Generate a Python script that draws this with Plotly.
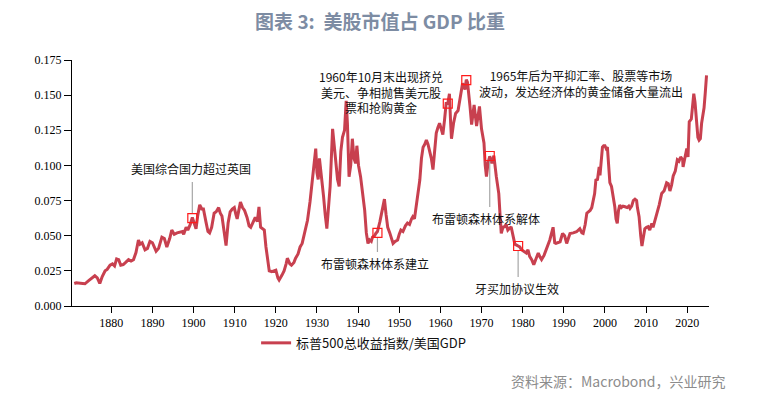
import plotly.graph_objects as go

# ---------------- data ----------------
years = [
    1871.0, 1871.5, 1872.5, 1873.6, 1874.5, 1875.3, 1876.0, 1876.6, 1877.2, 1877.8,
    1878.5, 1879.0, 1879.7, 1880.3, 1880.8, 1881.3, 1881.8, 1882.3, 1882.9, 1883.5,
    1884.2, 1884.8, 1885.4, 1886.0, 1886.6, 1887.0, 1887.5, 1888.2, 1888.8, 1889.4,
    1890.0, 1890.9, 1891.5, 1892.3, 1892.9, 1893.5, 1894.2, 1894.7, 1895.3, 1896.0,
    1896.7, 1897.3, 1897.6, 1898.2, 1898.6, 1899.2, 1899.7, 1900.2, 1900.6, 1901.0,
    1901.5, 1902.0, 1902.4, 1903.0, 1903.5, 1903.9, 1904.4, 1905.0, 1905.5, 1906.1,
    1906.5, 1906.9, 1907.4, 1907.9, 1908.4, 1908.9, 1909.4, 1909.9, 1910.3, 1910.6,
    1911.0, 1911.4, 1911.9, 1912.4, 1913.0, 1913.5, 1913.9, 1914.5, 1915.0, 1915.5,
    1915.9, 1916.3, 1916.8, 1917.2, 1917.6, 1918.0, 1918.4, 1919.0, 1919.5, 1920.0,
    1920.5, 1920.8, 1921.5, 1922.0, 1922.5, 1922.8, 1923.4, 1923.8, 1924.4, 1924.8,
    1925.4, 1925.9, 1926.4, 1927.0, 1927.7, 1928.3, 1928.9, 1929.3, 1929.7, 1930.0,
    1930.3, 1930.6, 1931.0, 1931.6, 1932.0, 1932.4, 1932.8, 1933.2, 1933.8, 1934.2,
    1934.6, 1935.0, 1935.4, 1935.8, 1936.2, 1936.7, 1937.1, 1937.4, 1937.8, 1938.2,
    1938.6, 1939.0, 1939.4, 1939.7, 1940.1, 1940.6, 1941.1, 1941.6, 1942.0, 1942.4,
    1942.8, 1943.2, 1943.5, 1944.0, 1944.3, 1944.7, 1945.3, 1945.9, 1946.4, 1946.8,
    1947.2, 1947.7, 1948.2, 1948.5, 1949.0, 1949.6, 1950.0, 1950.4, 1950.9, 1951.5,
    1952.0, 1952.5, 1953.0, 1953.3, 1953.7, 1954.3, 1954.7, 1955.0, 1955.4, 1955.8,
    1956.2, 1956.6, 1957.0, 1957.4, 1957.8, 1958.2, 1958.6, 1959.0, 1959.4, 1959.8,
    1960.2, 1960.6, 1961.0, 1961.4, 1961.8, 1962.2, 1962.5, 1962.7, 1963.2, 1963.7,
    1964.3, 1964.8, 1965.4, 1966.0, 1966.3, 1966.6, 1967.0, 1967.2, 1967.6, 1968.2,
    1968.8, 1969.2, 1969.5, 1970.0, 1970.6, 1970.9, 1971.2, 1971.6, 1972.0, 1972.5,
    1973.0, 1973.6, 1974.2, 1974.5, 1974.8, 1975.2, 1975.6, 1976.0, 1976.4, 1977.2,
    1977.7, 1978.1, 1978.9, 1979.3, 1979.7, 1980.3, 1980.9, 1981.3, 1981.7, 1982.2,
    1982.7, 1983.3, 1983.8, 1984.2, 1984.6, 1985.2, 1985.7, 1986.2, 1986.6, 1987.4,
    1987.8, 1988.1, 1989.1, 1989.7, 1990.2, 1990.7, 1991.5, 1992.3, 1993.1, 1993.9,
    1994.4, 1994.7, 1995.2, 1995.6, 1996.4, 1996.8, 1997.2, 1997.5, 1997.8, 1998.2,
    1998.6, 1998.8, 1999.4, 1999.7, 2000.0, 2000.3, 2000.6, 2001.0, 2001.2, 2001.6,
    2001.9, 2002.4, 2002.7, 2003.0, 2003.3, 2003.6, 2004.0, 2004.4, 2004.9, 2005.4,
    2005.8, 2006.1, 2006.5, 2006.9, 2007.3, 2007.7, 2007.9, 2008.3, 2008.7, 2009.0,
    2009.3, 2009.7, 2010.1, 2010.5, 2010.9, 2011.4, 2011.7, 2012.1, 2012.6, 2013.2,
    2013.8, 2014.4, 2015.0, 2015.4, 2015.8, 2016.2, 2016.6, 2017.1, 2017.6, 2018.0,
    2018.4, 2018.9, 2019.0, 2019.5, 2019.9, 2020.2, 2020.5, 2021.0, 2021.6, 2021.9,
    2022.3, 2022.6, 2022.9, 2023.2, 2023.5, 2024.1, 2024.4, 2024.7,
]
ratio = [
    0.0160, 0.0165, 0.0162, 0.0158, 0.0180, 0.0200, 0.0215, 0.0200, 0.0160, 0.0210,
    0.0250, 0.0260, 0.0290, 0.0300, 0.0285, 0.0335, 0.0330, 0.0290, 0.0295, 0.0310,
    0.0330, 0.0320, 0.0330, 0.0380, 0.0470, 0.0440, 0.0450, 0.0400, 0.0410, 0.0460,
    0.0450, 0.0390, 0.0410, 0.0490, 0.0480, 0.0420, 0.0480, 0.0540, 0.0510, 0.0520,
    0.0525, 0.0530, 0.0510, 0.0560, 0.0540, 0.0580, 0.0630, 0.0580, 0.0550, 0.0640,
    0.0720, 0.0690, 0.0690, 0.0600, 0.0530, 0.0520, 0.0560, 0.0660, 0.0670, 0.0700,
    0.0660, 0.0640, 0.0550, 0.0430, 0.0590, 0.0670, 0.0690, 0.0700, 0.0650, 0.0620,
    0.0680, 0.0740, 0.0700, 0.0680, 0.0630, 0.0570, 0.0560, 0.0600, 0.0630, 0.0600,
    0.0705, 0.0560, 0.0550, 0.0540, 0.0420, 0.0350, 0.0250, 0.0245, 0.0250, 0.0255,
    0.0200, 0.0185, 0.0220, 0.0250, 0.0300, 0.0340, 0.0300, 0.0290, 0.0310, 0.0340,
    0.0370, 0.0420, 0.0445, 0.0520, 0.0610, 0.0740, 0.0900, 0.1000, 0.1120, 0.0950,
    0.0900, 0.1050, 0.0950, 0.0780, 0.0650, 0.0550, 0.0700, 0.0850, 0.1260, 0.1150,
    0.1060, 0.0900, 0.0850, 0.1100, 0.1200, 0.1250, 0.1460, 0.1300, 0.0920, 0.1000,
    0.1190, 0.1050, 0.1015, 0.1140, 0.1000, 0.0920, 0.0800, 0.0680, 0.0520, 0.0445,
    0.0470, 0.0460, 0.0490, 0.0500, 0.0516, 0.0530, 0.0600, 0.0680, 0.0760, 0.0650,
    0.0560, 0.0520, 0.0480, 0.0445, 0.0460, 0.0470, 0.0510, 0.0540, 0.0530, 0.0570,
    0.0590, 0.0580, 0.0620, 0.0635, 0.0620, 0.0750, 0.0870, 0.0896, 0.1050, 0.1130,
    0.1150, 0.1180, 0.1150, 0.1100, 0.1050, 0.0970, 0.1100, 0.1230, 0.1270, 0.1300,
    0.1260, 0.1220, 0.1320, 0.1440, 0.1440, 0.1510, 0.1300, 0.1190, 0.1300, 0.1370,
    0.1390, 0.1480, 0.1585, 0.1540, 0.1610, 0.1590, 0.1500, 0.1420, 0.1290, 0.1430,
    0.1280, 0.1350, 0.1420, 0.1260, 0.1160, 0.1000, 0.0920, 0.1020, 0.1065, 0.1015,
    0.1070, 0.0920, 0.0800, 0.0650, 0.0516, 0.0560, 0.0564, 0.0580, 0.0540, 0.0564,
    0.0500, 0.0440, 0.0427, 0.0420, 0.0400, 0.0390, 0.0377, 0.0400, 0.0353, 0.0330,
    0.0294, 0.0340, 0.0377, 0.0350, 0.0330, 0.0360, 0.0400, 0.0448, 0.0470, 0.0560,
    0.0450, 0.0445, 0.0457, 0.0516, 0.0500, 0.0445, 0.0516, 0.0520, 0.0528, 0.0550,
    0.0520, 0.0516, 0.0580, 0.0660, 0.0680, 0.0700, 0.0750, 0.0800, 0.0896, 0.0900,
    0.0990, 0.0930, 0.1130, 0.1140, 0.1140, 0.1120, 0.1130, 0.1000, 0.0877, 0.0850,
    0.0800, 0.0706, 0.0620, 0.0588, 0.0680, 0.0718, 0.0700, 0.0710, 0.0706, 0.0700,
    0.0710, 0.0694, 0.0710, 0.0750, 0.0760, 0.0750, 0.0700, 0.0635, 0.0500, 0.0427,
    0.0480, 0.0550, 0.0560, 0.0564, 0.0540, 0.0588, 0.0560, 0.0600, 0.0660, 0.0720,
    0.0800, 0.0820, 0.0877, 0.0870, 0.0818, 0.0860, 0.0925, 0.0960, 0.1040, 0.1030,
    0.1060, 0.1040, 0.0990, 0.1080, 0.1120, 0.1060, 0.1310, 0.1330, 0.1510, 0.1450,
    0.1330, 0.1200, 0.1180, 0.1190, 0.1300, 0.1410, 0.1520, 0.1640,
]

x_ticks = [1880, 1890, 1900, 1910, 1920, 1930, 1940, 1950, 1960, 1970, 1980, 1990, 2000, 2010, 2020]
y_ticks = [0.0, 0.025, 0.05, 0.075, 0.1, 0.125, 0.15, 0.175]

series_name = "标普500总收益指数/美国GDP"
title_text = "图表 3:  美股市值占 GDP 比重"
source_text = "资料来源：Macrobond，兴业研究"

# highlighted event points (year, value)
box_years = [1899.7, 1944.7, 1961.8, 1966.3, 1972.0, 1978.9]
box_values = [0.0625, 0.0520, 0.1440, 0.1607, 0.1067, 0.0427]

# leader lines: year, from value, to value
lead_years = [1899.7, 1944.7, 1972.0, 1978.9]
lead_from = [0.0660, 0.0485, 0.1030, 0.0393]
lead_to = [0.0882, 0.0384, 0.0704, 0.0206]

# event labels: text, year, value
label_texts = [
    "美国综合国力超过英国",
    "布雷顿森林体系建立",
    "1960年10月末出现挤兑<br>美元、争相抛售美元股<br>票和抢购黄金",
    "1965年后为平抑汇率、股票等市场<br>波动，发达经济体的黄金储备大量流出",
    "布雷顿森林体系解体",
    "牙买加协议生效",
]
label_years = [1899.4, 1944.2, 1945.5, 1994.2, 1971.1, 1978.6]
label_values = [0.0981, 0.0299, 0.1522, 0.1580, 0.0626, 0.0121]

# ---------------- figure ----------------
LINE_COLOR = "#c8404f"
CJK = "Noto Sans CJK SC"
SERIF = "Liberation Serif"

fig = go.Figure()
fig.add_trace(go.Scatter(
    x=years, y=ratio, mode="lines", name=series_name,
    line=dict(color=LINE_COLOR, width=3),
))

shapes = []
for yr, v0, v1 in zip(lead_years, lead_from, lead_to):
    shapes.append(dict(type="line", xref="x", yref="y", x0=yr, x1=yr, y0=v0, y1=v1,
                       line=dict(color="#a6a6a6", width=1.2)))
for yr, v in zip(box_years, box_values):
    shapes.append(dict(type="rect", xref="x", yref="y",
                       xsizemode="pixel", ysizemode="pixel",
                       xanchor=yr, yanchor=v, x0=-4.5, x1=4.5, y0=-4.5, y1=4.5,
                       line=dict(color="#ff1a1a", width=1.2), fillcolor="rgba(0,0,0,0)"))

annotations = []
for t, yr, v in zip(label_texts, label_years, label_values):
    annotations.append(dict(text=t, x=yr, y=v, xref="x", yref="y", showarrow=False,
                            xanchor="center", yanchor="middle", align="center",
                            font=dict(family=CJK, size=12, color="#111111")))
annotations.append(dict(text=source_text, xref="paper", yref="paper", x=1.03, y=-0.305,
                        xanchor="right", yanchor="middle", showarrow=False,
                        font=dict(family=CJK, size=14, color="#8c8c8c")))

fig.update_layout(
    width=760, height=398,
    margin=dict(l=72, r=51, t=60, b=92),
    paper_bgcolor="white", plot_bgcolor="white",
    title=dict(text=title_text, x=0.5, xref="container", xanchor="center",
               y=1 - 22 / 398, yref="container", yanchor="middle",
               font=dict(family=CJK, size=19, color="#7d8ca3", weight=600)),
    showlegend=True,
    legend=dict(orientation="h", x=0.289, xanchor="left", y=-0.15, yanchor="middle",
                font=dict(family=CJK, size=13, color="#111111"), itemwidth=30,
                bgcolor="rgba(0,0,0,0)"),
    shapes=shapes,
    annotations=annotations,
    xaxis=dict(range=[1870.45, 2025.3], tickvals=x_ticks, ticktext=[str(t) for t in x_ticks],
               showgrid=False, zeroline=False, showline=True, linecolor="#000000", linewidth=1,
               ticks="outside", ticklen=6, tickcolor="#000000",
               tickfont=dict(family=SERIF, size=12, color="#000000")),
    yaxis=dict(range=[0, 0.175], tickvals=y_ticks, tickformat=".3f",
               showgrid=False, zeroline=False, showline=True, linecolor="#000000", linewidth=1,
               ticks="outside", ticklen=7, tickcolor="#000000",
               tickfont=dict(family=SERIF, size=12, color="#000000")),
)

fig.write_html("out.html", config={"displayModeBar": False},
               post_script="document.body.style.margin='0';document.body.style.overflow='hidden';")
